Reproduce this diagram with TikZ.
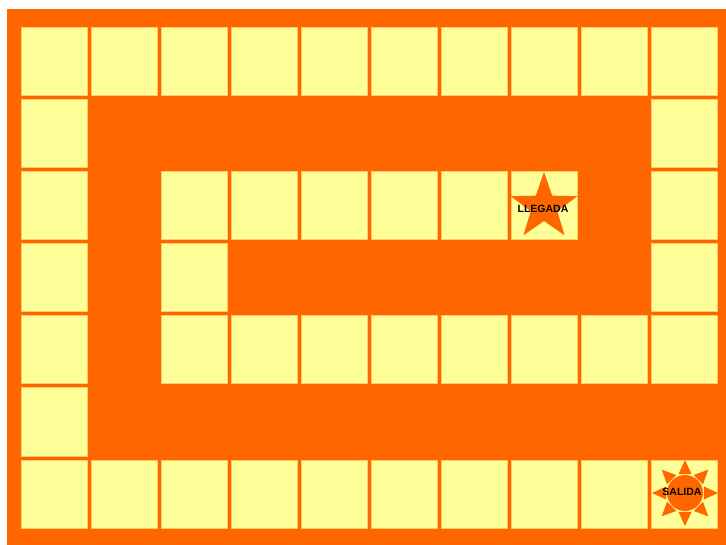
\documentclass[tikz,border=0pt]{standalone}
\usepackage{fontspec}
\setmainfont{Liberation Sans}
\usetikzlibrary{shapes.geometric,calc}
\definecolor{boardorange}{HTML}{FF6600}
\definecolor{cellfill}{HTML}{FFFF99}
\definecolor{celledge}{HTML}{FFCC66}
\tikzset{
  cellbox/.style={draw=celledge, line width=1pt, fill=cellfill},
  lbl/.style={font=\fontsize{10.5}{11}\selectfont\bfseries, text=black, inner sep=0pt},
  ray/.style={fill=boardorange, draw=none}
}
\begin{document}
\begin{tikzpicture}[x=1pt,y=-1pt]
\useasboundingbox (0,0) rectangle (726,545);
\fill[white] (0,0) rectangle (726,545);
\fill[boardorange] (7,9) rectangle (726,545);
% cells: \boardcell{col}{row}
\newcommand{\boardcell}[2]{%
  \pgfmathsetmacro{\cx}{21+70*#1}%
  \pgfmathsetmacro{\cy}{28+72*#2}%
  \draw[cellbox] (\cx,\cy) rectangle ++(66,68);}
% row 0 and row 6
\foreach \c in {0,...,9} {\boardcell{\c}{0}\boardcell{\c}{6}}
% column 0
\foreach \r in {1,...,5} {\boardcell{0}{\r}}
% column 9
\foreach \r in {1,...,4} {\boardcell{9}{\r}}
% row 2
\foreach \c in {2,...,7} {\boardcell{\c}{2}}
% row 3
\boardcell{2}{3}
% row 4
\foreach \c in {2,...,8} {\boardcell{\c}{4}}
% star (LLEGADA)
\node[star, star points=5, star point ratio=2.5, minimum size=70pt, fill=boardorange, inner sep=0pt] (star) at (544,207) {};
\node[lbl] (llegada) at (543,209) {LLEGADA};
% sun (SALIDA)
\coordinate (sunc) at (685,493);
\foreach \a in {0,45,...,315} {
  \fill[ray] ($(sunc)+(\a:33)$) -- ($(sunc)+(\a+19:20)$) -- ($(sunc)+(\a-19:20)$) -- cycle;
}
\node[circle, fill=boardorange, minimum size=36pt, inner sep=0pt] (sun) at (sunc) {};
\node[lbl] (salida) at (682,492) {SALIDA};
\end{tikzpicture}
\end{document}
